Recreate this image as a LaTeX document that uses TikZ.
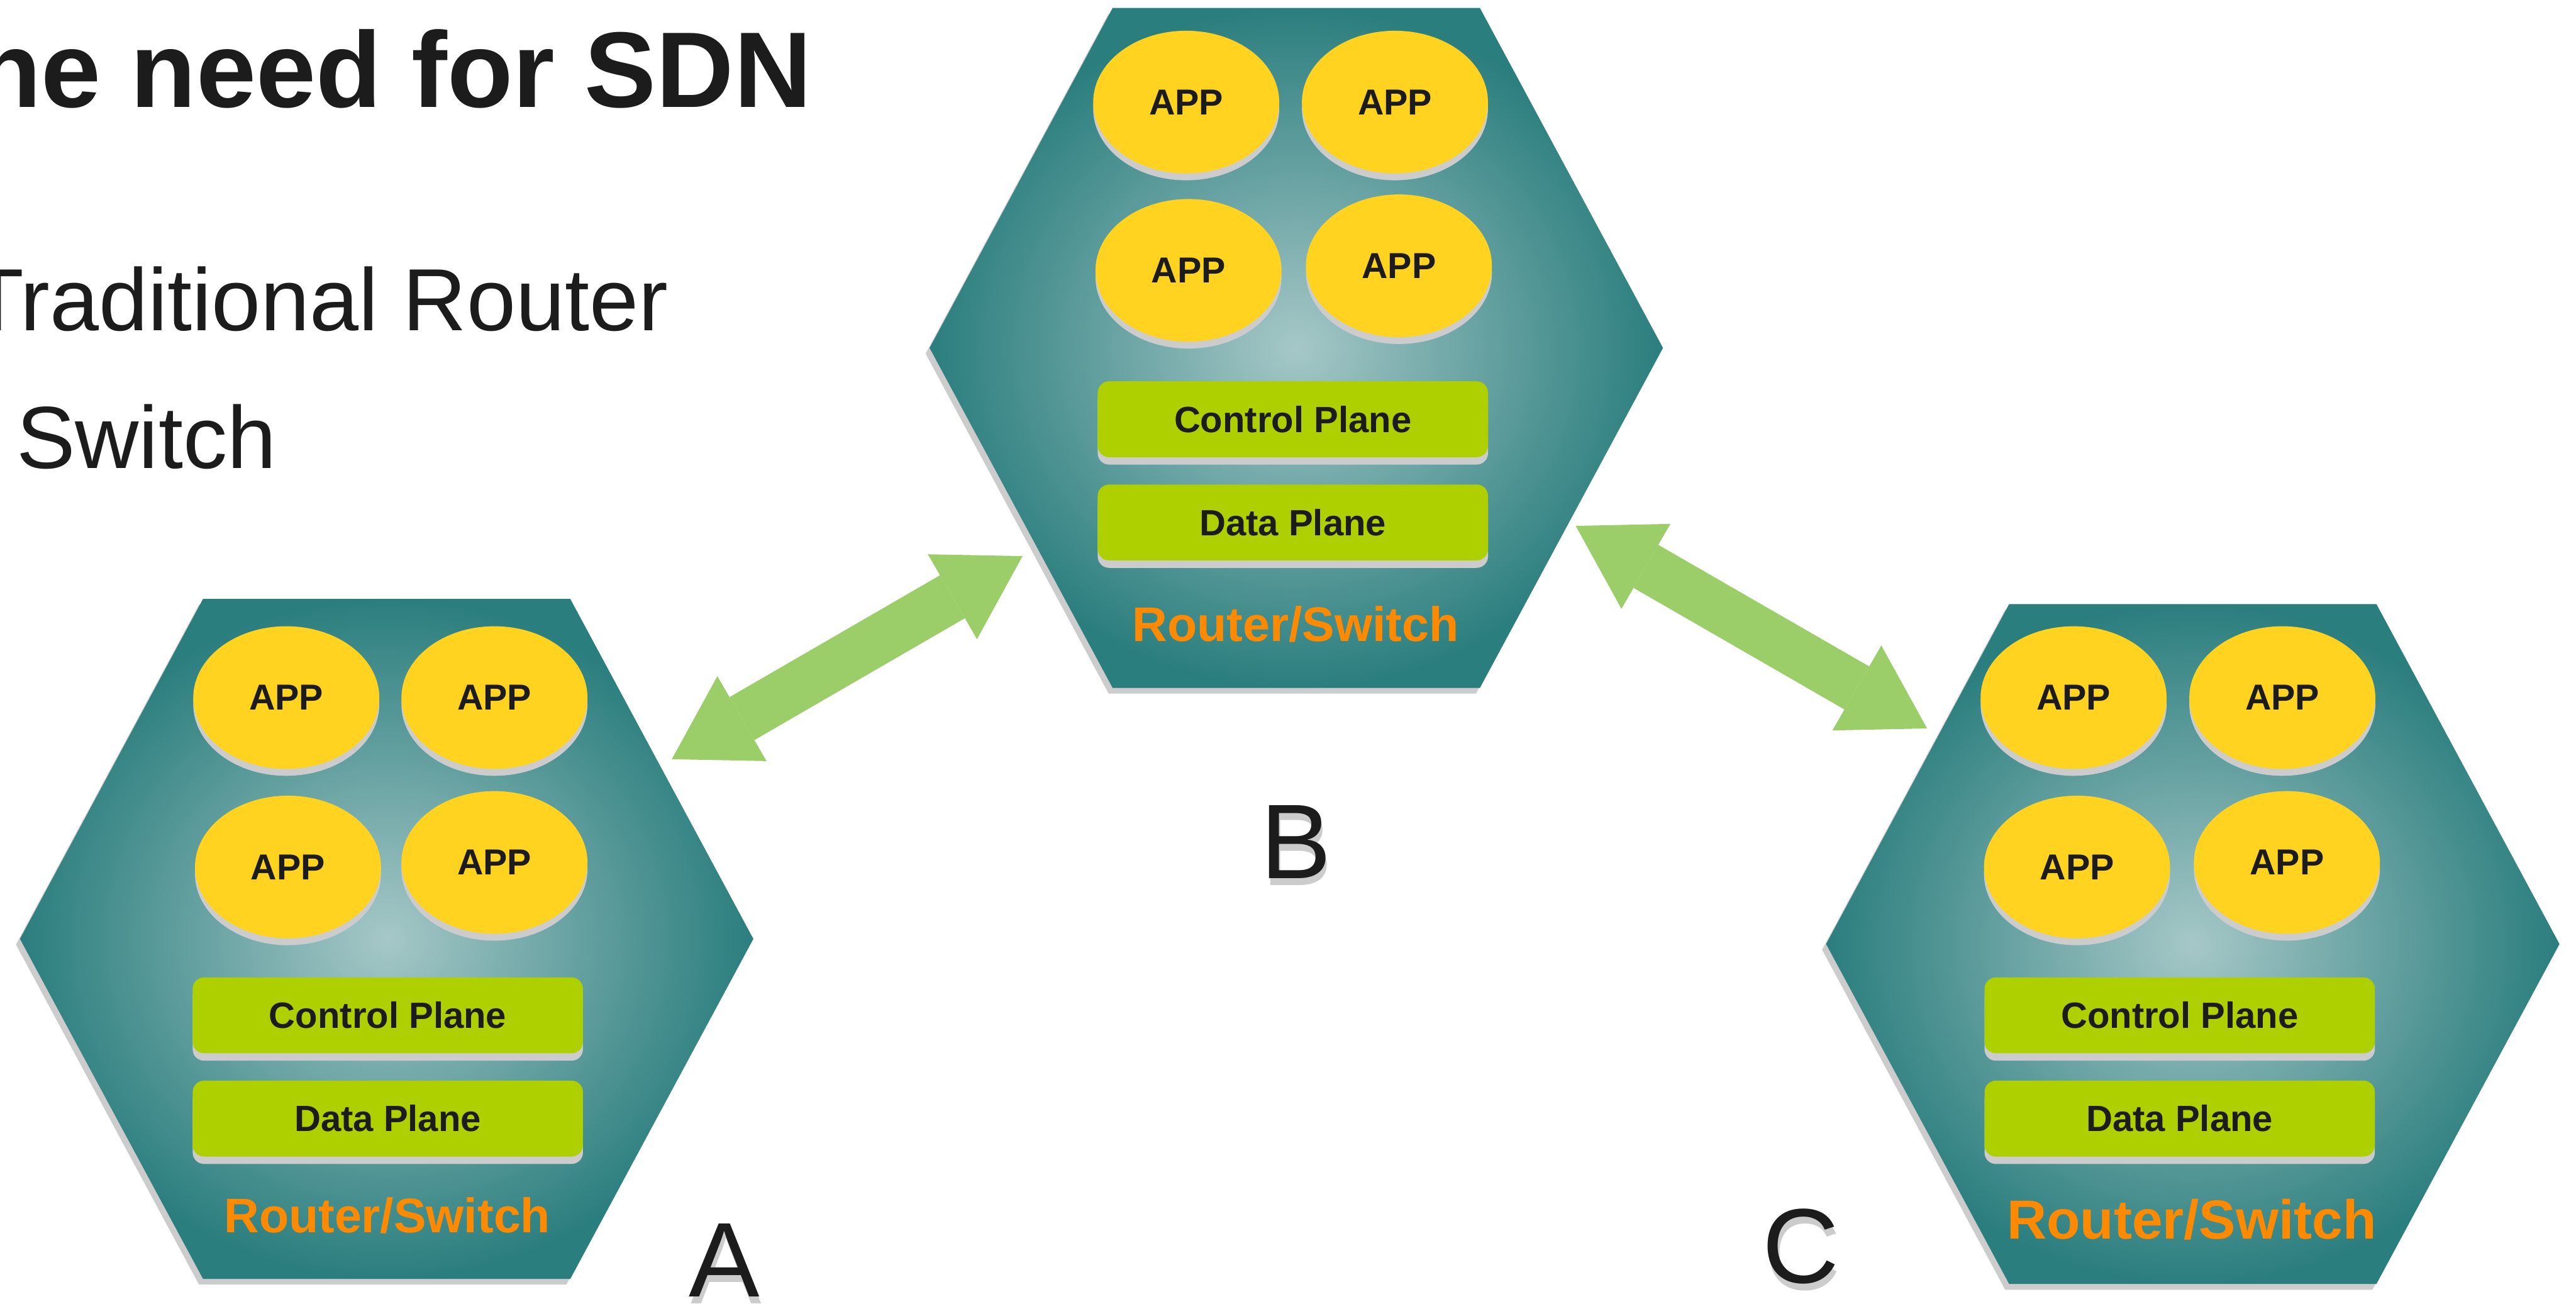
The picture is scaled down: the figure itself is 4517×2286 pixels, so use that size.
\documentclass[tikz,border=0pt]{standalone}
\usepackage{fontspec}
\setmainfont{Liberation Sans}
\usepackage{xcolor}
\usepackage{tikz}
\usetikzlibrary{shapes, arrows.meta, shadows}

\definecolor{hexout}{HTML}{2B7E7E}
\definecolor{hexin}{HTML}{A6C7C7}
\definecolor{appyellow}{HTML}{FFD320}
\definecolor{planegreen}{HTML}{AECF00}
\definecolor{shadowgray}{HTML}{CCCCCC}
\definecolor{linkgreen}{HTML}{9BCD69}
\definecolor{devorange}{HTML}{FF8A00}
\definecolor{inkblack}{HTML}{1C1C1C}

\begin{document}
\begin{tikzpicture}[x=0.01cm, y=-0.01cm,
    hexagon/.pic={
        \fill[shadowgray] (-650,10) -- (-329,-586) -- (315,-586) -- (636,10) -- (315,606) -- (-329,606) -- cycle;
        \shade[inner color=hexin, outer color=hexout] (-643,0) -- (-322,-596) -- (322,-596) -- (643,0) -- (322,596) -- (-322,596) -- cycle;
    },
    app/.style={ellipse, fill=appyellow, minimum width=3.26cm, minimum height=2.5cm, inner sep=0pt,
        text=inkblack, font=\fontsize{18}{20}\selectfont\bfseries,
        drop shadow={shadow xshift=0cm, shadow yshift=-0.12cm, fill=shadowgray, opacity=1}},
    plane/.style={rectangle, rounded corners=0.2cm, fill=planegreen, minimum width=6.84cm, minimum height=1.33cm, inner sep=0pt,
        text=inkblack, font=\fontsize{18.2}{20}\selectfont\bfseries,
        drop shadow={shadow xshift=0cm, shadow yshift=-0.13cm, fill=shadowgray, opacity=1}},
    device/.style={anchor=base, inner sep=0pt, text=devorange, font=\fontsize{24.2}{28}\selectfont\bfseries},
    letter/.style={anchor=base, inner sep=0pt, text=inkblack, font=\fontsize{52.9}{60}\selectfont},
    lettershadow/.style={letter, text=shadowgray},
    link/.style={draw=linkgreen, line width=24.75pt,
        {Triangle[length=40.4pt, width=48.9pt, line width=0pt]}-{Triangle[length=40.4pt, width=48.9pt, line width=0pt]}}
]
        \useasboundingbox (0,0) rectangle (4517,2286);
        \clip (0,0) rectangle (4517,2286);

        \node[anchor=base east, inner sep=0pt, text=inkblack, font=\fontsize{53.6}{60}\selectfont\bfseries] (title) at (1424,188) {The need for SDN};
        \node[anchor=base east, inner sep=0pt, text=inkblack, font=\fontsize{44}{50}\selectfont] (router) at (1172,580) {Traditional Router};
        \node[anchor=base west, inner sep=0pt, text=inkblack, font=\fontsize{44}{50}\selectfont] (switch) at (28,821) {Switch};

        \coordinate (hexA) at (678,1646);
        \pic at (hexA) {hexagon};
        \node[app] (appA1) at (502,1223) {APP};
        \node[app] (appA2) at (867,1223) {APP};
        \node[app] (appA3) at (505,1520) {APP};
        \node[app] (appA4) at (867,1512) {APP};
        \node[plane] (ctrlA) at (680,1780) {Control Plane};
        \node[plane] (dataA) at (680,1961) {Data Plane};
        \node[device] (devA) at (679,2161) {Router/Switch};

        \coordinate (hexB) at (2273,610);
        \pic at (hexB) {hexagon};
        \node[app] (appB1) at (2080,179) {APP};
        \node[app] (appB2) at (2446,179) {APP};
        \node[app] (appB3) at (2084,474) {APP};
        \node[app] (appB4) at (2453,466) {APP};
        \node[plane] (ctrlB) at (2267,735) {Control Plane};
        \node[plane] (dataB) at (2267,916) {Data Plane};
        \node[device] (devB) at (2272,1124) {Router/Switch};

        \coordinate (hexC) at (3845,1655);
        \pic at (hexC) {hexagon};
        \node[app] (appC1) at (3636,1223) {APP};
        \node[app] (appC2) at (4002,1223) {APP};
        \node[app] (appC3) at (3642,1520) {APP};
        \node[app] (appC4) at (4010,1512) {APP};
        \node[plane] (ctrlC) at (3822,1780) {Control Plane};
        \node[plane] (dataC) at (3822,1961) {Data Plane};
        \node[device, font=\fontsize{27.4}{30}\selectfont\bfseries] (devC) at (3843,2172) {Router/Switch};

        \node[lettershadow] (nameA-s) at (1273,2285) {A};
        \node[letter] (nameA) at (1270,2273) {A};
        \node[lettershadow] (nameB-s) at (2275,1552) {B};
        \node[letter] (nameB) at (2272,1540) {B};
        \node[lettershadow] (nameC-s) at (3161,2261) {C};
        \node[letter] (nameC) at (3158,2249) {C};

        \coordinate (linkAB-a) at (1178,1331);
        \coordinate (linkAB-b) at (1793,975);
        \coordinate (linkBC-b) at (2763,922);
        \coordinate (linkBC-c) at (3379,1277);
        \draw[link] (linkAB-a) -- (linkAB-b);
        \draw[link] (linkBC-b) -- (linkBC-c);
    \end{tikzpicture}
\end{document}
